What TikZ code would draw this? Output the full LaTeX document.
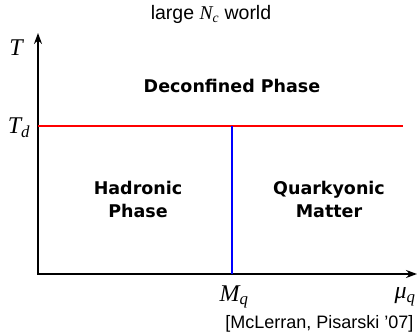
\documentclass[tikz,border=0pt]{standalone}
\usepackage{fontspec}
\setmainfont{Liberation Sans}
\newfontfamily\heavyfont{DejaVu Sans}[BoldFont={DejaVu Sans Bold}]
\newfontfamily\serifit{Liberation Serif}[UprightFont={* Italic}]
\newcommand{\symb}[2]{{\serifit #1}\textsubscript{\serifit #2}}
\usepackage{tikz}
\usetikzlibrary{arrows.meta,positioning,calc}
\definecolor{tdline}{HTML}{FF0000}
\definecolor{mqline}{HTML}{0000FF}

\begin{document}
\begin{tikzpicture}[
    x=1pt, y=-1pt,
    axis/.style={-{Stealth[length=11pt, width=8pt]}, line width=1.6pt, color=black},
    phaseline/.style={line width=1.5pt},
    phase/.style={font=\heavyfont\fontsize{17.5}{23}\selectfont\bfseries, align=center},
    mathlbl/.style={font=\fontsize{24}{24}\selectfont},
    plain/.style={font=\fontsize{19.5}{20}\selectfont},
]
\useasboundingbox (0,0) rectangle (417,336);

% -- axes ---------------------------------------------------------------
\coordinate (origin) at (38,274);
\coordinate (ytop)   at (38,33);
\coordinate (xend)   at (417,274);
\draw[axis] ([yshift=-0.8pt]origin) -- (ytop);
\draw[axis] ([xshift=-0.8pt]origin) -- (xend);

% -- phase boundaries ---------------------------------------------------
\coordinate (tdleft)  at (38,126);
\coordinate (tdright) at (403,126);
\coordinate (mqtop)   at (232,126);
\coordinate (mqbot)   at (232,274);
\draw[phaseline, color=tdline] (tdleft) -- (tdright);
\draw[phaseline, color=mqline] (mqtop) -- (mqbot);

% -- axis labels --------------------------------------------------------
\node[mathlbl] (tlbl)  at (16,48)  {\serifit T};
\node[mathlbl] (tdlbl) at (19,128) {\symb{T}{d}};
\node[mathlbl] (mqlbl) at (234,297) {\symb{M}{q}};
\node[mathlbl] (mulbl) at (405,297) {\symb{μ}{q}};

% -- region labels ------------------------------------------------------
\node[phase] (deconf) at (232,86)  {Deconfined Phase};
\node[phase] (hadr)   at (138,199) {Hadronic\\Phase};
\node[phase] (quark)  at (329,199) {Quarkyonic\\Matter};

% -- title and reference ------------------------------------------------
\node[plain] (title) at (211,14) {large \symb{N}{c} world};
\node[plain, anchor=east, font=\fontsize{18}{19}\selectfont] (cite) at (417,324) {[McLerran, Pisarski '07]};

\end{tikzpicture}
\end{document}
